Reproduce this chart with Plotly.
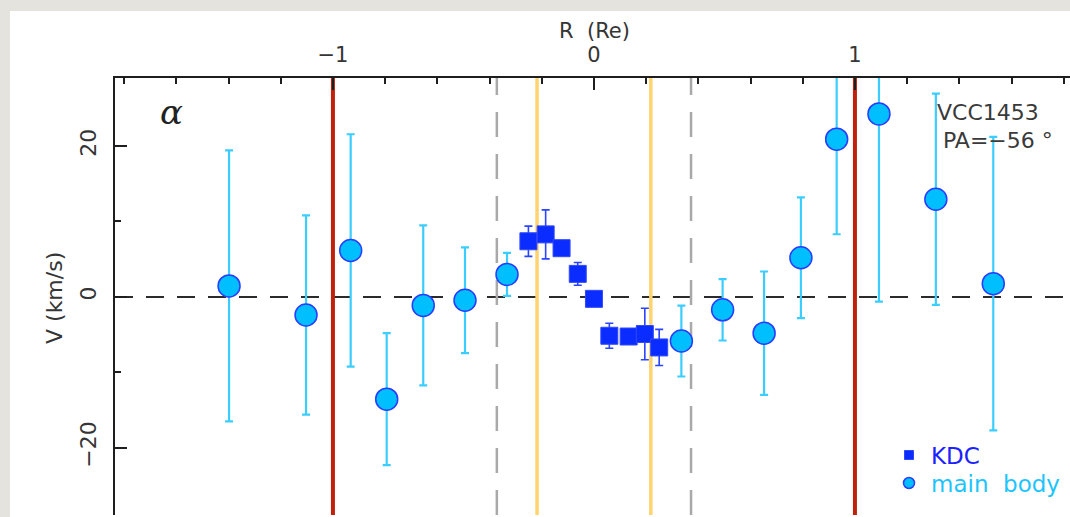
import plotly.graph_objects as go

# ---------------- data ----------------
# main body: radius in units of Re, velocity and 1-sigma error (km/s)
MB_R = [-1.398, -1.103, -0.932, -0.794, -0.654, -0.494, -0.333,
        0.335, 0.493, 0.652, 0.793, 0.930, 1.092, 1.310, 1.530]
MB_V = [1.45, -2.40, 6.15, -13.55, -1.13, -0.44, 2.98,
        -5.85, -1.72, -4.81, 5.19, 20.90, 24.24, 12.94, 1.75]
MB_ERR = [17.95, 13.2, 15.4, 8.75, 10.6, 7.0, 2.85,
          4.7, 4.06, 8.17, 8.0, 12.6, 24.86, 14.0, 19.45]

# kinematically decoupled core
KDC_R = [-0.251, -0.185, -0.124, -0.062, 0.0, 0.059, 0.133, 0.195, 0.250]
KDC_V = [7.37, 8.28, 6.45, 3.05, -0.26, -5.15, -5.25, -4.92, -6.70]
KDC_ERR = [2.0, 3.25, 0.8, 1.5, 0.5, 1.65, 1.0, 3.42, 2.4]

# reference radii (Re)
RE_LINES = [-1.0, 1.0]
KDC_EDGE = [-0.218, 0.218]
DASHED_R = [-0.372, 0.372]

R_TICKS = [-1, 0, 1]
R_RANGE = [-1.835, 1.824]
V_RANGE = [-28.9, 29.0]
ARCSEC_PER_RE = 1.905

GALAXY = "VCC1453"
PA_LABEL = "PA=\u221256\u00a0\u00b0"

# ---------------- styling ----------------
FONT = "DejaVu Sans"
TXT = "#353535"
FRAME = "#1e1e1e"
MB_FILL = "#00bfff"
MB_ERRC = "#3ccdff"
MB_EDGE = "#2a3cff"
KDC_FILL = "#0a2cff"
KDC_ERRC = "#2a44ff"

W, H = 1070, 517
ML, MR, MT, MB = 115, 0, 78, 2
PW, PH = W - ML - MR, H - MT - MB


def px_x(px):
    return (px - ML) / PW


def px_y(py):
    return (H - MB - py) / PH


fig = go.Figure()

fig.add_trace(go.Scatter(
    x=MB_R, y=MB_V, mode="markers", showlegend=False, hoverinfo="x+y",
    error_y=dict(type="data", array=MB_ERR, color=MB_ERRC, thickness=2.2, width=4),
    marker=dict(symbol="circle", size=22, color=MB_FILL,
                line=dict(color=MB_EDGE, width=1.5)),
))
fig.add_trace(go.Scatter(
    x=KDC_R, y=KDC_V, mode="markers", showlegend=False, hoverinfo="x+y",
    error_y=dict(type="data", array=KDC_ERR, color=KDC_ERRC, thickness=1.6, width=4),
    marker=dict(symbol="square", size=17, color=KDC_FILL,
                line=dict(color="#3048ff", width=1)),
))

shapes = [
    # white sheet behind the panel
    dict(type="rect", xref="paper", yref="paper", layer="below",
         x0=px_x(10), x1=1.2, y0=-0.2, y1=px_y(11),
         fillcolor="white", line=dict(width=0)),
    # zero-velocity line
    dict(type="line", xref="paper", yref="y", layer="below",
         x0=0, x1=1, y0=0, y1=0,
         line=dict(color="#2b2b2b", width=2, dash="18px,13px")),
]
for r in DASHED_R:
    shapes.append(dict(type="line", xref="x", yref="paper", layer="below",
                       x0=r, x1=r, y0=0, y1=1,
                       line=dict(color="#a9a9a9", width=2.5, dash="25px,17px")))
for r in KDC_EDGE:
    shapes.append(dict(type="line", xref="x", yref="paper", layer="below",
                       x0=r, x1=r, y0=0, y1=1,
                       line=dict(color="#ffd46e", width=3.5)))
for r in RE_LINES:
    shapes.append(dict(type="line", xref="x", yref="paper", layer="below",
                       x0=r, x1=r, y0=0, y1=1,
                       line=dict(color="#c0200c", width=4)))

# legend symbols
shapes.append(dict(type="rect", xref="paper", yref="paper",
                   xsizemode="pixel", ysizemode="pixel",
                   xanchor=px_x(909), yanchor=px_y(455),
                   x0=-4.5, x1=4.5, y0=-4.5, y1=4.5,
                   fillcolor=KDC_FILL, line=dict(color="#3048ff", width=1)))
shapes.append(dict(type="circle", xref="paper", yref="paper",
                   xsizemode="pixel", ysizemode="pixel",
                   xanchor=px_x(909), yanchor=px_y(483),
                   x0=-5.5, x1=5.5, y0=-5.5, y1=5.5,
                   fillcolor=MB_FILL, line=dict(color=MB_EDGE, width=1.5)))

annotations = [
    dict(text="R\u00a0\u00a0(Re)", xref="paper", yref="paper",
         x=px_x(594), y=px_y(31), showarrow=False, xanchor="center", yanchor="middle",
         font=dict(family=FONT, size=21, color=TXT)),
    dict(text="V\u00a0(km/s)", xref="paper", yref="paper", textangle=-90,
         x=px_x(54), y=px_y(298), showarrow=False, xanchor="center", yanchor="middle",
         font=dict(family=FONT, size=22, color=TXT)),
    dict(text="<i>\u03b1</i>", xref="paper", yref="paper",
         x=px_x(171), y=px_y(112), showarrow=False, xanchor="center", yanchor="middle",
         font=dict(family="DejaVu Serif", size=34, color="#222222")),
    dict(text=GALAXY, xref="paper", yref="paper",
         x=px_x(988), y=px_y(113), showarrow=False, xanchor="center", yanchor="middle",
         font=dict(family=FONT, size=22, color="#3a3a3a")),
    dict(text=PA_LABEL, xref="paper", yref="paper",
         x=px_x(998), y=px_y(140), showarrow=False, xanchor="center", yanchor="middle",
         font=dict(family=FONT, size=22, color="#3a3a3a")),
    dict(text="KDC", xref="paper", yref="paper",
         x=px_x(929), y=px_y(456), showarrow=False, xanchor="left", yanchor="middle",
         font=dict(family=FONT, size=23, color="#1a22ff")),
    dict(text="main\u00a0\u00a0body", xref="paper", yref="paper",
         x=px_x(929), y=px_y(484), showarrow=False, xanchor="left", yanchor="middle",
         font=dict(family=FONT, size=23, color="#1ec4ff")),
]

tick_common = dict(ticks="inside", tickcolor=FRAME, tickwidth=1.6,
                   showgrid=False, zeroline=False)

fig.update_layout(
    width=W, height=H,
    margin=dict(l=ML, r=MR, t=MT, b=MB, pad=0),
    paper_bgcolor="#e4e3de",
    plot_bgcolor="white",
    shapes=shapes,
    annotations=annotations,
    xaxis=dict(
        range=R_RANGE, side="top", tickmode="array", tickvals=R_TICKS,
        ticklen=12, showline=True, linecolor=FRAME, linewidth=2,
        ticklabelstandoff=6,
        minor=dict(dtick=0.2, tick0=0, ticklen=6, ticks="inside",
                   tickcolor=FRAME, tickwidth=1.6),
        tickfont=dict(family=FONT, size=21, color=TXT),
        **tick_common,
    ),
    xaxis2=dict(
        range=[R_RANGE[0] * ARCSEC_PER_RE, R_RANGE[1] * ARCSEC_PER_RE],
        overlaying="x", side="bottom", anchor="y",
        dtick=1, tick0=0, ticklen=6, showticklabels=False,
        showline=True, linecolor=FRAME, linewidth=2,
        minor=dict(dtick=0.2, tick0=0, ticklen=3, ticks="inside",
                   tickcolor=FRAME, tickwidth=1.4),
        **tick_common,
    ),
    xaxis3=dict(
        range=[R_RANGE[0] * ARCSEC_PER_RE, R_RANGE[1] * ARCSEC_PER_RE],
        overlaying="x", side="bottom", anchor="y",
        dtick=2, tick0=0, ticklen=12, showticklabels=False, showline=False,
        **tick_common,
    ),
    yaxis=dict(
        range=V_RANGE, dtick=20, tick0=0, ticklen=12, tickangle=-90,
        showline=True, linecolor=FRAME, linewidth=2, ticklabelstandoff=8,
        minor=dict(dtick=10, tick0=0, ticklen=6, ticks="inside",
                   tickcolor=FRAME, tickwidth=1.6),
        tickfont=dict(family=FONT, size=22, color=TXT),
        **tick_common,
    ),
    yaxis2=dict(
        range=V_RANGE, overlaying="y", side="right", anchor="x",
        dtick=20, tick0=0, ticklen=12, showticklabels=False, showline=False,
        minor=dict(dtick=10, tick0=0, ticklen=6, ticks="inside",
                   tickcolor=FRAME, tickwidth=1.6),
        **tick_common,
    ),
)

fig.write_html("out.html")
